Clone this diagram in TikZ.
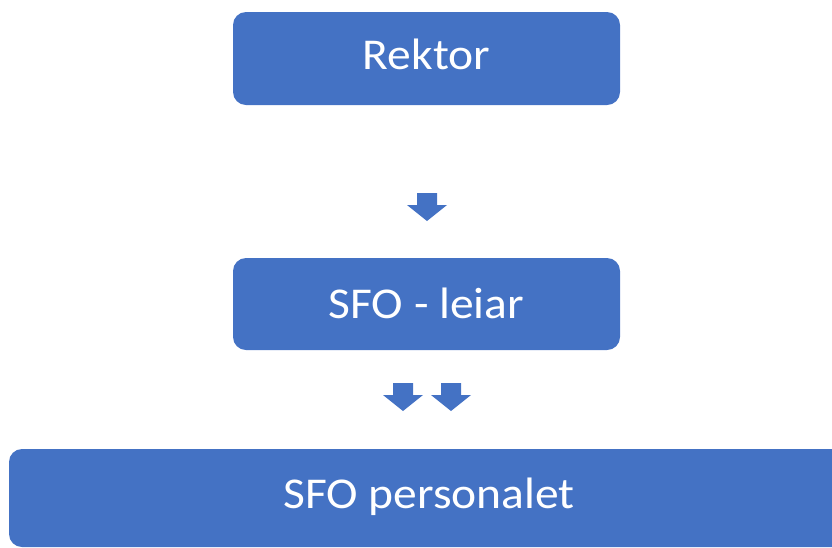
\documentclass[tikz,border=0pt]{standalone}
\usepackage{fontspec}
\setmainfont{Carlito}[FakeStretch=1.08]
\definecolor{officeblue}{HTML}{4472C4}
\begin{document}
\begin{tikzpicture}[x=1pt, y=-1pt,
    box/.style={fill=officeblue, rounded corners=13pt, text=white, inner sep=0pt,
        font=\fontsize{44}{52}\selectfont, text height=28pt, text depth=6pt},
    blockarrow/.style={fill=officeblue}
]
\useasboundingbox (0,0) rectangle (832,547);
\clip (0,0) rectangle (832,547);

% Boxes
\node[box, minimum width=387pt, minimum height=93pt] (rektor) at (426.5,58.5) {Rektor};
\node[box, minimum width=387pt, minimum height=92pt, text depth=-4pt] (leiar) at (426.5,304) {SFO - leiar};
\node[box, minimum width=840pt, minimum height=98pt, text depth=7pt] (personalet) at (429,498) {SFO personalet};

% Arrows
\foreach \x/\y in {427/193, 403/383, 451/383}{
    \fill[blockarrow] (\x-10,\y) -- (\x+10,\y) -- (\x+10,\y+12) -- (\x+20,\y+12)
        -- (\x,\y+28) -- (\x-20,\y+12) -- (\x-10,\y+12) -- cycle;
}

\end{tikzpicture}
\end{document}
